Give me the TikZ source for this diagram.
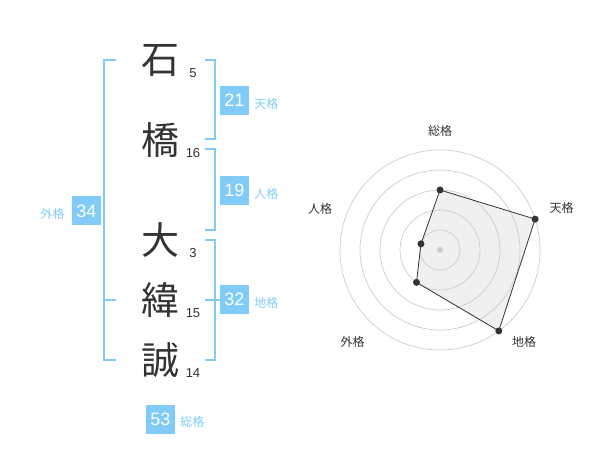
\documentclass[tikz,border=0pt]{standalone}
\usepackage{fontspec}
\setmainfont{Liberation Sans}
\newfontfamily\jpfont{Noto Sans CJK JP}
\usetikzlibrary{positioning}
\definecolor{kakublue}{HTML}{80CBF7}
\definecolor{inkgray}{HTML}{333333}
\tikzset{
  kanji/.style={font=\jpfont\fontsize{38}{38}\selectfont,text=inkgray,inner sep=0pt},
  strokes/.style={font=\fontsize{13}{13}\selectfont,text=inkgray,inner sep=0pt},
  kakubox/.style={fill=kakublue,text=white,minimum size=29pt,inner sep=0pt,font=\fontsize{18}{18}\selectfont},
  kakuname/.style={text=kakublue,font=\jpfont\fontsize{12}{12}\selectfont,inner sep=0pt},
  bracket/.style={draw=kakublue,line width=2pt},
  axisname/.style={text=inkgray,font=\jpfont\fontsize{12}{12}\selectfont,inner sep=0pt},
  ring/.style={draw=black!20,line width=0.7pt},
  dot/.style={fill=inkgray,circle,inner sep=0pt,minimum size=7pt}
}
\begin{document}
\begin{tikzpicture}[x=1pt,y=-1pt]
  \useasboundingbox (0,0) rectangle (600,470);
  % name, one character per line
  \node[kanji]   (c1) at (160,61)  {石};
  \node[strokes] (n1) at (193,73)  {5};
  \node[kanji]   (c2) at (160,140) {橋};
  \node[strokes] (n2) at (193,153) {16};
  \node[kanji]   (c3) at (160,240) {大};
  \node[strokes] (n3) at (193,253) {3};
  \node[kanji]   (c4) at (160,300) {緯};
  \node[strokes] (n4) at (193,313) {15};
  \node[kanji]   (c5) at (160,360) {誠};
  \node[strokes] (n5) at (193,373) {14};
  % brackets
  \draw[bracket] (116,60) -| (104,360) -- (116,360);
  \draw[bracket] (104,300) -- (116,300);
  \draw[bracket] (205,60) -| (215,139) -- (205,139);
  \draw[bracket] (205,149) -| (215,230) -- (205,230);
  \draw[bracket] (205,240) -| (215,360) -- (205,360);
  \draw[bracket] (205,300) -- (220,300);
  % totals
  \node[kakubox] (tenkaku) at (234.5,100.5) {21};
  \node[kakuname,right=5pt of tenkaku,yshift=-3pt] {天格};
  \node[kakubox] (jinkaku) at (234.5,190.5) {19};
  \node[kakuname,right=5pt of jinkaku,yshift=-3pt] {人格};
  \node[kakubox] (chikaku) at (234.5,299.5) {32};
  \node[kakuname,right=5pt of chikaku,yshift=-3pt] {地格};
  \node[kakubox] (gaikaku) at (86.5,211) {34};
  \node[kakuname,left=7pt of gaikaku,yshift=-3pt] {外格};
  \node[kakubox] (soukaku) at (160.5,419) {53};
  \node[kakuname,right=5pt of soukaku,yshift=-3pt] {総格};
  % radar
  \begin{scope}[shift={(440,250)},y=1pt]
    \coordinate (sou) at (90:60);
    \coordinate (ten) at (18:100);
    \coordinate (chi) at (-54:100);
    \coordinate (gai) at (-126:40);
    \coordinate (jin) at (162:20);
    \fill[black!6] (sou) -- (ten) -- (chi) -- (gai) -- (jin) -- cycle;
    \foreach \r in {20,40,...,100}
      \draw[ring] (0,0) circle (\r);
    \draw[inkgray,line width=0.8pt] (sou) -- (ten) -- (chi) -- (gai) -- (jin) -- cycle;
    \foreach \p in {sou,ten,chi,gai,jin}
      \node[dot] (\p-dot) at (\p) {};
    \node[fill=black!20,circle,inner sep=0pt,minimum size=6pt] (hub) at (0,0) {};
    \node[axisname] (sou-name) at (0,119)      {総格};
    \node[axisname] (ten-name) at (121.7,41.7) {天格};
    \node[axisname] (chi-name) at (84,-91.7)   {地格};
    \node[axisname] (gai-name) at (-87.3,-91.7){外格};
    \node[axisname] (jin-name) at (-120,41)    {人格};
  \end{scope}
\end{tikzpicture}
\end{document}
